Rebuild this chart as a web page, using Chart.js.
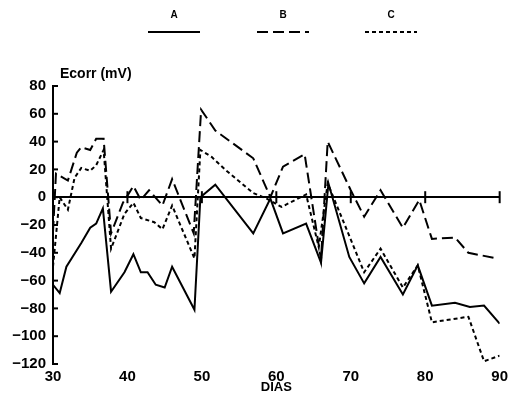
<!DOCTYPE html>
<html>
<head>
<meta charset="utf-8">
<script src="https://cdn.jsdelivr.net/npm/chart.js@4"></script>
<style>
  html, body { margin: 0; padding: 0; background: #fff; }
  canvas { display: block; }
</style>
</head>
<body>
<canvas id="ecorrChart" width="512" height="395"></canvas>
<script>
// Ecorr (mV) vs days, series A / B / C
const labelsSeries = ['A', 'B', 'C'];

const daysA = [30, 30.9, 31.8, 33.8, 35, 35.8, 36.7, 37.8, 39.6, 40.8, 41.8, 42.7, 43.8, 45, 46, 49, 49.8, 51.8, 56.9, 59.2, 60.9, 64, 66, 67, 69.8, 71.8, 74, 77, 79, 80.9, 84, 86, 87.9, 90];
const valsA = [-63, -69, -50, -33, -22, -19, -8, -68, -54, -41, -54, -54, -63, -65, -50, -81, 0, 9, -26, -1, -26, -19, -47, 10, -43, -62, -43, -70, -49, -78, -76, -79, -78, -91];

const daysB = [30, 30.4, 32, 33.2, 33.8, 35, 35.8, 36.8, 37.8, 39.4, 40.8, 41.8, 42.9, 44.7, 46, 48.9, 49.9, 51.8, 56.9, 59.2, 60.9, 63.8, 66, 66.9, 70, 71.8, 74, 77, 79.2, 80.9, 84, 85.8, 89.6];
const valsB = [-25, 17, 12, 32, 36, 34, 42, 42, -26, -4, 8, -2, 5, -6, 13, -26, 63, 48, 28, 0, 22, 31, -45, 40, 5, -14, 5, -22, -2, -30, -29, -40, -44];

const daysC = [30, 30.9, 32, 32.9, 33.8, 35, 35.8, 36.8, 37.8, 39.6, 40.8, 41.8, 43.6, 44.7, 46, 49, 49.8, 51.3, 53.3, 56.9, 58.7, 60.7, 64, 65.7, 66.9, 71.8, 74, 77, 79, 80.9, 85.8, 87.9, 90];
const valsC = [-50, 0, -9, 14, 21, 19, 23, 34, -37, -12, -4, -15, -18, -23, -6, -44, 34, 29, 19, 3, -1, -7, 2, -36, 10, -54, -37, -65, -49, -90, -86, -118, -114];

const yTicks = [80, 60, 40, 20, 0, -20, -40, -60, -80, -100, -120];
const xTicks = [30, 40, 50, 60, 70, 80, 90];

const toPoints = (xs, ys) => xs.map((x, i) => ({ x: x, y: ys[i] }));
const family = '"Liberation Sans", Arial, sans-serif';

// extra drawing: inward ticks, zero-line ticks, legend above, y title
const decor = {
    id: 'decor',
    afterDatasetsDraw(chart) {
        const { ctx, chartArea, scales } = chart;
        const x = scales.x, y = scales.y;
        ctx.save();
        ctx.strokeStyle = '#000';
        ctx.fillStyle = '#000';
        ctx.lineWidth = 2;

        // y axis ticks pointing into the plot
        yTicks.forEach(v => {
            const py = y.getPixelForValue(v);
            ctx.beginPath();
            ctx.moveTo(chartArea.left, py);
            ctx.lineTo(chartArea.left + 5, py);
            ctx.stroke();
        });

        // ticks on the zero line
        const y0 = y.getPixelForValue(0);
        xTicks.slice(1).forEach(d => {
            const px = x.getPixelForValue(d);
            ctx.beginPath();
            ctx.moveTo(px, y0 - 6);
            ctx.lineTo(px, y0 + 6);
            ctx.stroke();
        });

        // y title
        ctx.font = 'bold 14px ' + family;
        ctx.textAlign = 'left';
        ctx.textBaseline = 'alphabetic';
        ctx.fillText('Ecorr (mV)', chartArea.left + 7, 78);

        // legend: letter above a line sample
        const legendX = [174, 283, 391];
        chart.data.datasets.forEach((ds, i) => {
            const cx = legendX[i];
            ctx.font = 'bold 10px ' + family;
            ctx.textAlign = 'center';
            ctx.fillText(ds.label, cx, 18);
            ctx.setLineDash(ds.borderDash || []);
            ctx.beginPath();
            ctx.moveTo(cx - 26, 32);
            ctx.lineTo(cx + 26, 32);
            ctx.stroke();
            ctx.setLineDash([]);
        });
        ctx.restore();
    }
};

new Chart(document.getElementById('ecorrChart'), {
    type: 'line',
    data: {
        datasets: [
            { label: labelsSeries[0], data: toPoints(daysA, valsA), borderDash: [] },
            { label: labelsSeries[1], data: toPoints(daysB, valsB), borderDash: [11, 5] },
            { label: labelsSeries[2], data: toPoints(daysC, valsC), borderDash: [4, 3] }
        ].map(ds => Object.assign(ds, {
            borderColor: '#000',
            borderWidth: 2,
            pointRadius: 0,
            tension: 0,
            fill: false
        }))
    },
    options: {
        responsive: false,
        animation: false,
        devicePixelRatio: 1,
        layout: { padding: { top: 86, right: 9, left: 0, bottom: 0 } },
        plugins: {
            legend: { display: false },
            tooltip: { enabled: false }
        },
        scales: {
            x: {
                type: 'linear',
                min: 30,
                max: 90,
                afterFit: s => { s.height = 31; },
                afterBuildTicks: s => { s.ticks = xTicks.map(v => ({ value: v })); },
                grid: { display: false, drawTicks: false },
                border: { display: false },
                ticks: { color: '#000', font: { family: family, size: 15, weight: 'bold' }, padding: 4, maxRotation: 0 },
                title: { display: true, text: 'DIAS', color: '#000', font: { family: family, size: 13, weight: 'bold' }, padding: { top: 0, bottom: 0 } }
            },
            y: {
                min: -120,
                max: 80,
                afterFit: s => { s.width = 53; },
                afterBuildTicks: s => { s.ticks = yTicks.map(v => ({ value: v })); },
                grid: {
                    drawTicks: false,
                    lineWidth: 2,
                    color: c => (c.tick && c.tick.value === 0) ? '#000' : 'rgba(0,0,0,0)'
                },
                border: { display: true, color: '#000', width: 2 },
                ticks: {
                    color: '#000',
                    padding: 7,
                    font: { family: family, size: 15, weight: 'bold' },
                    callback: v => v < 0 ? '\u2212' + Math.abs(v) : String(v)
                }
            }
        }
    },
    plugins: [decor]
});
</script>
</body>
</html>
